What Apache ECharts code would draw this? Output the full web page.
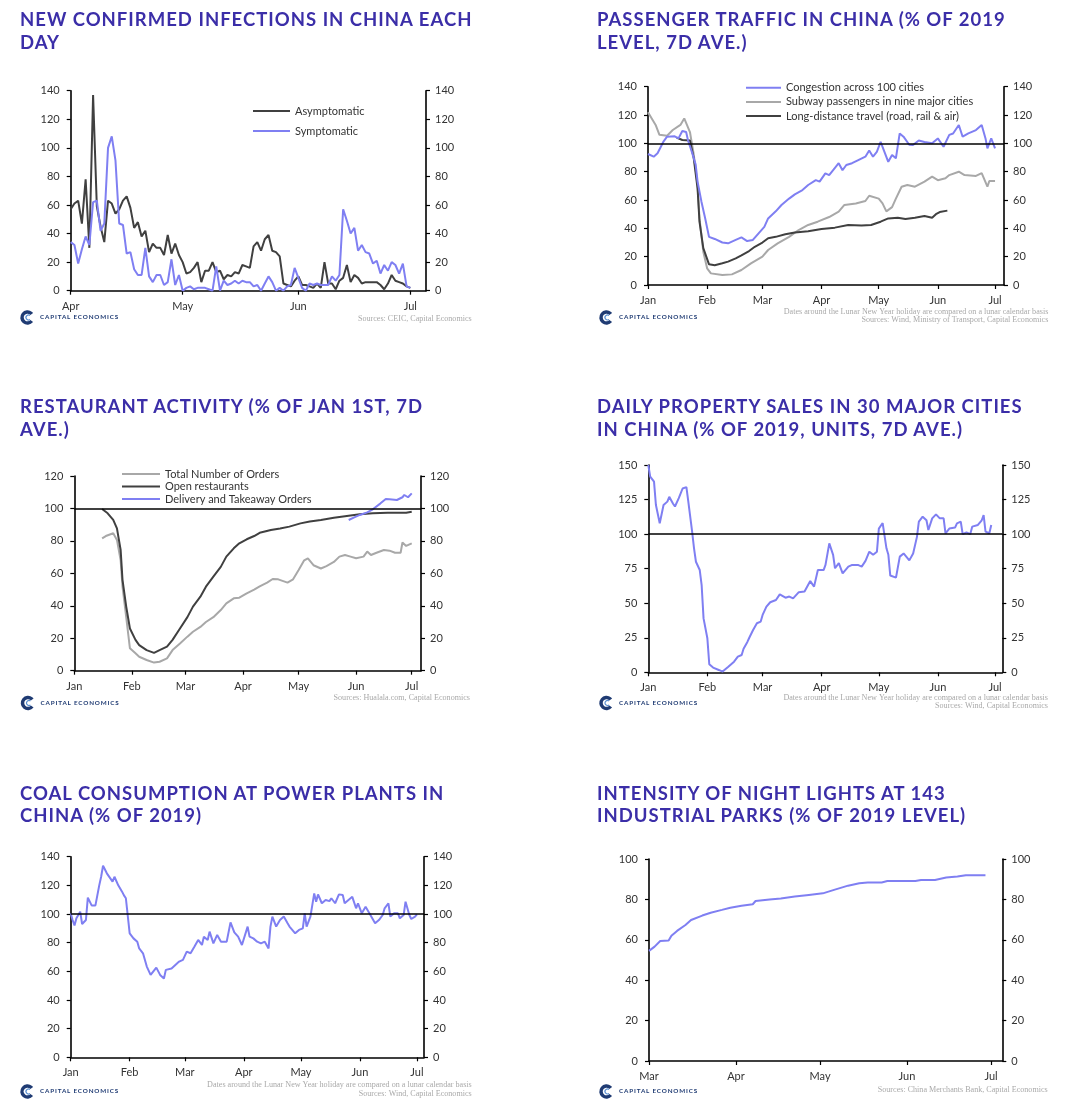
<!DOCTYPE html>
<html><head><meta charset="utf-8">
<script src="https://cdn.jsdelivr.net/npm/echarts@6/dist/echarts.min.js"></script>
<style>
html,body{margin:0;padding:0;background:#fff}
#wrap{position:relative;width:1067px;height:1117px}
#c{position:absolute;left:0;top:0;width:1067px;height:1117px}
.ttl{position:absolute;font-family:Lato,sans-serif;font-weight:bold;font-size:18.5px;line-height:22.6px;letter-spacing:1px;color:#3b2ea8;white-space:nowrap;z-index:2}
.logo{position:absolute;font-family:Lato,sans-serif;font-weight:bold;font-size:6.3px;line-height:8px;letter-spacing:0.85px;color:#1f3b73;white-space:nowrap;z-index:2}
</style>
</head><body><div id="wrap"><div id="c"></div></div>
<script>
// ---------- DATA ----------
// x values are days of 2020 (Jan 1 = 0)
const monthNames = ['Jan','Feb','Mar','Apr','May','Jun','Jul'];
const monthStarts = [0, 31, 60, 91, 121, 152, 182];

// Chart 1: daily values starting Apr 1 (day 91)
const infStart = 91;
const asymptomatic = [57,61,63,47,78,30,137,59,45,34,63,61,54,57,63,66,58,44,48,38,42,27,33,30,30,25,39,26,33,25,20,12,13,16,20,6,14,14,20,13,14,8,11,10,13,12,18,17,16,31,34,28,36,39,28,27,24,5,4,3,7,10,4,4,3,2,5,2,20,5,5,1,7,9,18,6,11,9,5,6,6,6,6,4,1,5,11,7,6,5,3,2];
const symptomatic = [34,32,19,29,38,32,62,63,42,47,100,108,91,47,46,26,27,15,11,11,30,10,6,11,11,4,6,22,4,11,0,2,3,1,2,2,2,1,0,17,0,7,4,5,7,5,7,6,6,3,4,0,5,10,6,0,2,0,3,4,16,9,2,0,5,4,5,4,4,4,10,7,11,57,49,40,44,28,32,27,26,19,21,12,18,14,20,18,12,19,3,2];

// Chart 2: passenger traffic [day, % of 2019]
const congestion = [[0,92.5],[3,90.6],[5,93],[8,101],[10,104.7],[14,105],[16,103.5],[18,108.7],[20,108],[21,102],[23,94],[25,85],[26,73],[28,59],[30,47],[32,34],[35,32.5],[39,30],[42,29.4],[46,31.8],[49,33.6],[52,31],[55,31.8],[58,36.5],[61,41],[63,47],[67,52],[70,56.5],[74,61],[77,64],[81,67],[84,70.6],[88,74],[90,73],[93,78.8],[95,77.6],[97,81],[100,86],[102,81],[104,84.7],[107,86],[110,88],[114,90.6],[116,95],[118,90.6],[120,94],[122,101],[124,94],[126,87],[128,91.8],[130,89.4],[132,107],[134,104.7],[137,99],[139,98.8],[142,102],[145,101],[149,100],[152,103.5],[155,97.6],[158,106],[160,107],[163,113],[165,104.7],[168,107],[172,109.4],[175,113],[177,103.5],[178,96.5],[180,103.5],[182,96.5]];
const subway = [[0,122],[4,113],[6,106],[10,105.4],[13,109.4],[17,113],[19,117.6],[22,108],[24,92],[26,70.6],[27,47],[29,23.5],[31,11.8],[33,8.2],[39,7],[44,7.5],[49,10.6],[54,15.3],[60,20],[63,24.7],[68,29.4],[74,34],[79,38.8],[84,42.4],[89,44.7],[95,48],[100,51.8],[103,56.5],[109,57.6],[114,59.3],[116,63],[121,61],[123,57.6],[125,52],[128,55],[130,61],[133,69.4],[136,70.6],[140,69.4],[145,73],[149,76.5],[152,74],[156,75.3],[158,77.6],[163,80],[166,77.6],[172,77],[175,79],[178,69.4],[179,73.4],[182,73.4]];
const longDistance = [[15,104],[18,102.4],[22,102],[24,89.4],[26,68],[27,44.7],[29,26],[32,14.6],[35,14],[39,15.3],[42,16.5],[46,18.8],[49,21],[53,24],[56,27],[60,30],[63,33],[67,34],[72,35.8],[77,37],[84,38],[91,39.5],[98,40.5],[105,42.4],[112,42],[117,42.4],[122,44.7],[126,47],[131,47.5],[135,46.6],[140,47.5],[145,48.7],[149,47.5],[151,50],[153,51.5],[157,52.5]];

// Chart 3: restaurant activity [day, % of Jan 1st]
const totalOrders = [[15,81.6],[17,83],[21,84.7],[23,80.6],[25,68],[26,51.8],[28,33],[30,13.8],[33,10.7],[35,8.6],[39,6.6],[43,5],[46,5.5],[50,7.6],[53,12.7],[57,16.8],[61,21],[64,24],[68,27],[71,30],[75,33],[79,37.4],[82,41.5],[86,44.6],[89,45],[93,47.7],[97,50],[100,52],[104,54.3],[107,56.5],[110,56.3],[115,54.3],[118,56.3],[121,62],[124,68],[126,69.3],[129,65],[133,63],[136,64.5],[140,67],[143,70.3],[146,71.3],[149,70.3],[152,69.3],[156,70.3],[158,73.4],[160,71.3],[163,72.7],[167,74.4],[170,74],[173,72.7],[176,72.7],[177,79],[179,76.9],[182,78.5]];
const openRestaurants = [[15,99.7],[18,97],[21,92.9],[23,87.7],[25,74.4],[26,56],[28,39.5],[30,26],[33,19],[35,15.8],[39,12.7],[43,11],[46,12.7],[50,14.8],[53,19],[57,26],[61,33],[64,39.5],[68,45.6],[71,51.8],[75,58],[79,64],[82,70.3],[86,75.4],[89,78.5],[93,81],[97,83],[100,85],[106,86.7],[111,87.7],[116,88.8],[122,90.8],[127,91.9],[133,92.9],[140,94.3],[147,95.4],[154,96.4],[161,97],[169,97.4],[176,97.4],[179,97.4],[182,98]];
const deliveryOrders = [[148,92.9],[151,94.5],[154,96],[158,97.6],[161,99.5],[165,103],[168,105.8],[170,105.6],[174,105.2],[177,106.9],[178,108.3],[180,106.9],[182,109.3]];

// Chart 4: property sales [day, % of 2019]
const propertySales = [[0,150],[1,141.6],[3,138],[4,121],[5,120],[6,107.8],[8,121],[10,123.5],[11,127],[13,122],[14,120],[16,126],[18,133],[20,134],[21,123.5],[23,101.8],[24,89.7],[25,80],[27,74],[28,63],[29,39],[30,38],[31,24.6],[32,5.8],[34,3.4],[37,1.7],[39,0.5],[42,4],[45,7.7],[47,11.3],[49,12.5],[50,17],[52,22],[53,25],[55,30.6],[57,35.5],[59,36.7],[60,41.5],[62,47.5],[64,50.7],[67,52.3],[69,56.4],[72,54],[74,54.8],[76,53.5],[79,58],[82,58.4],[85,66],[87,62],[89,74],[92,74],[93,77.7],[95,93.3],[97,85],[98,75.3],[100,79],[102,71.6],[105,76.5],[107,77.7],[110,77.7],[112,76.5],[114,80.6],[116,87.3],[118,85],[120,87.3],[121,104],[123,108],[125,89.7],[126,85],[127,70],[130,68.5],[132,83.7],[134,86],[137,81],[139,86],[141,98],[142,109],[144,112.6],[146,110],[147,103],[149,111.4],[151,114.3],[153,111.4],[155,111.4],[156,100.6],[158,104],[161,104.7],[162,107.8],[164,109],[165,100],[167,101.3],[169,100],[170,105.4],[173,106.6],[175,110],[176,113.8],[177,101.8],[179,100.6],[180,106.6]];

// Chart 5: coal consumption [day, % of 2019]
const coalConsumption = [[0,100.5],[1,95.8],[2,92],[3,97],[5,101.6],[6,93],[8,95.8],[9,111.4],[11,106],[13,106],[15,120],[16,126],[17,133.7],[19,128.4],[22,122.6],[23,126],[25,120],[27,115.6],[28,113],[29,111],[31,86.5],[33,83],[35,80.7],[36,76],[38,72.6],[40,63.3],[42,57.5],[43,58.6],[45,62.6],[47,57.5],[49,55],[50,61],[53,62],[54,63.3],[57,66.8],[59,68],[61,73.7],[63,72.6],[65,77.2],[67,81.9],[69,78.4],[70,84.2],[72,81.9],[73,87.7],[75,79.5],[77,85.4],[79,80.7],[82,80.7],[84,94.2],[86,87.2],[88,84.2],[90,78.4],[93,91.2],[94,84.2],[96,83],[98,80.7],[100,79.5],[102,80.7],[104,76],[105,91.2],[106,98.2],[108,91.2],[110,95.8],[112,98.2],[114,93.5],[115,91.2],[118,86.5],[120,88.9],[122,90],[123,100.5],[124,91.2],[126,98.2],[128,114.4],[129,108.6],[130,113.7],[132,107.5],[134,109.8],[136,109],[137,111],[139,107.5],[141,113.7],[143,113.3],[144,107.5],[146,109.8],[148,112],[150,104],[151,107.5],[153,100.5],[155,105],[157,100.5],[158,101.6],[160,93.5],[162,95.8],[164,99.3],[165,104],[167,107.5],[168,98.2],[170,100.5],[172,100.5],[173,97],[175,99.3],[176,108.6],[178,99.3],[179,96.5],[181,98.2],[182,99.8]];

// Chart 6: night lights [day, % of 2019 level]
const nightLights = [[60,54.5],[62,56.6],[64,59.4],[67,59.6],[68,62],[70,64.4],[73,67.3],[75,69.8],[79,72],[82,73.4],[86,74.8],[89,75.9],[93,76.9],[97,77.6],[98,79.2],[103,80],[107,80.5],[112,81.4],[117,82.2],[122,83],[126,84.7],[131,86.8],[135,88],[138,88.4],[143,88.4],[145,89.1],[150,89.1],[155,89.1],[157,89.6],[162,89.6],[166,90.8],[170,91.3],[173,92],[176,92],[180,92]];

// Titles and notes
const chartTitles = [
  'NEW CONFIRMED INFECTIONS IN CHINA EACH<br>DAY',
  'PASSENGER TRAFFIC IN CHINA (% OF 2019<br>LEVEL, 7D AVE.)',
  'RESTAURANT ACTIVITY (% OF JAN 1ST, 7D<br>AVE.)',
  'DAILY PROPERTY SALES IN 30 MAJOR CITIES<br>IN CHINA (% OF 2019, UNITS, 7D AVE.)',
  'COAL CONSUMPTION AT POWER PLANTS IN<br>CHINA (% OF 2019)',
  'INTENSITY OF NIGHT LIGHTS AT 143<br>INDUSTRIAL PARKS (% OF 2019 LEVEL)'
];
const lunarNote = 'Dates around the Lunar New Year holiday are compared on a lunar calendar basis';

// ---------- STYLE / LAYOUT ----------
const BLUE = '#7f7ff2', DARK = '#404040', LIGHT = '#a8a8a8';
const AX_FONT = 'Lato';
const daily = (start, arr) => arr.map((v, i) => [start + i, v]);

const grids = [
  {left: 70.7, top: 90.7, width: 355.3, height: 200, xMin: 91, xMax: 186.2, yMax: 140, yInt: 20},
  {left: 648, top: 86.7, width: 356, height: 198.3, xMin: 0, xMax: 186.7, yMax: 140, yInt: 20},
  {left: 74.3, top: 476, width: 346.7, height: 194.7, xMin: 0, xMax: 187, yMax: 120, yInt: 20},
  {left: 648.3, top: 465, width: 354, height: 207.3, xMin: 0, xMax: 185.8, yMax: 150, yInt: 25},
  {left: 70.7, top: 856.7, width: 353.3, height: 200.6, xMin: 0, xMax: 185.7, yMax: 140, yInt: 20},
  {left: 649, top: 859, width: 353.3, height: 202, xMin: 60, xMax: 186, yMax: 100, yInt: 20}
];

const option = {animation: false, backgroundColor: '#fff', grid: [], xAxis: [], yAxis: [], series: [], legend: [], graphic: []};

grids.forEach((g, i) => {
  option.grid.push({left: g.left, top: g.top, width: g.width, height: g.height, containLabel: false});
  const ticks = monthStarts.filter(m => m >= g.xMin && m <= g.xMax);
  option.xAxis.push({
    type: 'value', gridIndex: i, min: g.xMin, max: g.xMax,
    axisLine: {show: true, onZero: false, lineStyle: {color: '#000', width: 1.6}},
    axisTick: {show: true, customValues: ticks, length: 4, lineStyle: {color: '#000', width: 1.2}},
    axisLabel: {customValues: ticks, formatter: v => monthNames[monthStarts.indexOf(v)], color: '#333', fontSize: 11, fontFamily: AX_FONT, margin: 10},
    splitLine: {show: false}
  });
  ['left', 'right'].forEach(pos => {
    option.yAxis.push({
      type: 'value', gridIndex: i, position: pos, min: 0, max: g.yMax, interval: g.yInt,
      axisLine: {show: true, onZero: false, lineStyle: {color: '#000', width: 1.6}},
      axisTick: {show: true, length: 4, lineStyle: {color: '#000', width: 1.2}},
      axisLabel: {color: '#333', fontSize: 11, fontFamily: AX_FONT, margin: pos === 'left' ? 11 : 9},
      splitLine: {show: false}
    });
  });
});

const refLine = {silent: true, symbol: 'none', label: {show: false}, lineStyle: {color: '#000', width: 1.6, type: 'solid'}, emphasis: {disabled: true}, data: [{yAxis: 100}]};

function addSeries(gi, name, data, color, withRef) {
  const s = {type: 'line', name, xAxisIndex: gi, yAxisIndex: gi * 2, data, symbol: 'none', showSymbol: false,
    lineStyle: {color, width: 2}, itemStyle: {color}, silent: true, z: 3};
  if (withRef) s.markLine = refLine;
  option.series.push(s);
}

addSeries(0, 'Asymptomatic', daily(infStart, asymptomatic), DARK, false);
addSeries(0, 'Symptomatic', daily(infStart, symptomatic), BLUE, false);

addSeries(1, 'Subway passengers in nine major cities', subway, LIGHT, true);
addSeries(1, 'Long-distance travel (road, rail & air)', longDistance, DARK, false);
addSeries(1, 'Congestion across 100 cities', congestion, BLUE, false);

addSeries(2, 'Total Number of Orders', totalOrders, LIGHT, true);
addSeries(2, 'Open restaurants', openRestaurants, DARK, false);
addSeries(2, 'Delivery and Takeaway Orders', deliveryOrders, BLUE, false);

addSeries(3, 'Property sales', propertySales, BLUE, true);
addSeries(4, 'Coal consumption', coalConsumption, BLUE, true);
addSeries(5, 'Night lights', nightLights, BLUE, false);

// legends (thin line keys)
const legText = {color: '#333', fontSize: 11, fontFamily: AX_FONT, lineHeight: 12};
const legBase = {orient: 'vertical', icon: 'rect', itemHeight: 2, selectedMode: false, textStyle: legText, padding: 0};
option.legend.push(Object.assign({}, legBase, {left: 253, top: 105, itemWidth: 37, itemGap: 8, data: ['Asymptomatic', 'Symptomatic']}));
option.legend.push(Object.assign({}, legBase, {left: 746, top: 81.7, itemWidth: 35, itemGap: 2.2, data: ['Congestion across 100 cities', 'Subway passengers in nine major cities', 'Long-distance travel (road, rail & air)']}));
option.legend.push(Object.assign({}, legBase, {left: 122, top: 468, itemWidth: 38, itemGap: 0.5, data: ['Total Number of Orders', 'Open restaurants', 'Delivery and Takeaway Orders']}));

// logos (icon drawn in ECharts)
const logos = [[27.5, 317.5], [606.5, 317.5], [28, 703], [606.5, 703], [27.5, 1091.5], [606.5, 1091.5]];
logos.forEach(([x, y]) => {
  option.graphic.push({type: 'arc', silent: true, shape: {cx: x, cy: y, r: 5.5, startAngle: Math.PI * 0.22, endAngle: Math.PI * 1.78, clockwise: true}, style: {stroke: '#1f3b73', lineWidth: 3.5, fill: null}});
  option.graphic.push({type: 'arc', silent: true, shape: {cx: x + 1, cy: y, r: 2.5, startAngle: Math.PI * 0.3, endAngle: Math.PI * 1.7, clockwise: true}, style: {stroke: '#5b8fd0', lineWidth: 1.2, fill: null}});
});

// sources
const srcStyle = (text) => ({fontSize: 8.1, fontFamily: 'Liberation Serif', fill: '#a9a9a9', align: 'right', verticalAlign: 'middle', text});
const sources = [
  [471.7, 319.3, 'Sources: CEIC, Capital Economics'],
  [1048.3, 311.7, lunarNote],
  [1048.3, 320, 'Sources: Wind, Ministry of Transport, Capital Economics'],
  [470, 698.3, 'Sources: Hualala.com, Capital Economics'],
  [1048, 697.7, lunarNote],
  [1048, 705.7, 'Sources: Wind, Capital Economics'],
  [471.7, 1085, lunarNote],
  [471.7, 1094, 'Sources: Wind, Capital Economics'],
  [1047.7, 1090, 'Sources: China Merchants Bank, Capital Economics']
];
sources.forEach(([x, y, t]) => option.graphic.push({type: 'text', silent: true, x, y, style: srcStyle(t)}));

const chart = echarts.init(document.getElementById('c'), null, {renderer: 'canvas'});
chart.setOption(option);

// HTML text: titles and logo wordmarks
const wrap = document.getElementById('wrap');
const titlePos = [[20, 8.2], [597, 8.2], [20, 395], [597, 395], [20, 781.6], [597, 781.6]];
titlePos.forEach(([x, y], i) => {
  const d = document.createElement('div');
  d.className = 'ttl'; d.style.left = x + 'px'; d.style.top = y + 'px';
  d.innerHTML = chartTitles[i];
  wrap.appendChild(d);
});
logos.forEach(([x, y]) => {
  const d = document.createElement('div');
  d.className = 'logo'; d.style.left = (x + 12.5) + 'px'; d.style.top = (y - 4.5) + 'px';
  d.textContent = 'CAPITAL ECONOMICS';
  wrap.appendChild(d);
});
</script></body></html>
